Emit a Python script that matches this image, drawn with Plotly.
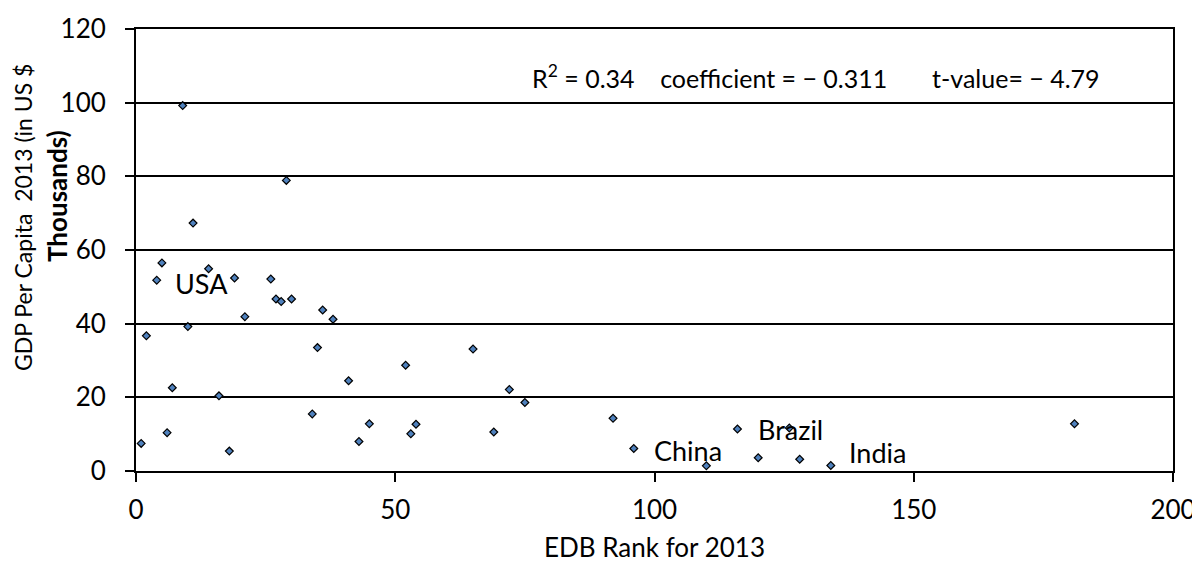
import plotly.graph_objects as go

# ---- data ----
edb_rank = [9, 29, 11, 5, 14, 4, 19, 26, 27, 28, 30, 21, 36, 38, 2, 10, 35, 52, 41, 7,
            16, 34, 45, 54, 6, 53, 1, 43, 18, 65, 72, 75, 69, 92, 96, 110, 116, 120,
            126, 128, 134, 181]
gdp_pc = [99.2, 78.9, 67.3, 56.5, 54.9, 51.8, 52.4, 52.1, 46.7, 46.0, 46.7, 41.9, 43.7,
          41.2, 36.7, 39.2, 33.5, 28.7, 24.5, 22.6, 20.4, 15.5, 12.8, 12.7, 10.4, 10.1,
          7.5, 8.0, 5.4, 33.1, 22.1, 18.6, 10.6, 14.3, 6.1, 1.4, 11.4, 3.6, 11.7, 3.2,
          1.5, 12.8]

country_labels = ["USA", "China", "Brazil", "India"]
label_x = [12.7, 106.5, 126.3, 143.1]
label_y = [51.0, 5.7, 11.4, 4.9]

x_ticks = [0, 50, 100, 150, 200]
y_ticks = [0, 20, 40, 60, 80, 100, 120]

NB = "\u00a0"
stats_text = ("R<sup>2</sup> = 0.34" + NB * 4 + "coefficient = \u2212 0.311"
              + NB * 7 + "t-value= \u2212 4.79")

FONT = "Lato"
OFF = 8                     # page body margin of the written html
PAGE_W, PAGE_H = 1200, 563
W, H = PAGE_W - OFF, PAGE_H - OFF
# plot area in page pixels: x 136..1173, y 29..471
PL, PR, PT, PB = 136, 1173, 29, 471
L, T = PL - OFF, PT - OFF
R, B = W - (PR - OFF), H - (PB - OFF)
PW, PH = PR - PL, PB - PT

def px_to_paper_x(px):
    return (px - PL) / PW

def px_to_paper_y(py):
    return (PB - py) / PH

fig = go.Figure()
fig.add_trace(go.Scatter(
    x=edb_rank, y=gdp_pc, mode="markers",
    marker=dict(symbol="diamond", size=6, color="#4F81BD",
                line=dict(color="black", width=1.2)),
    showlegend=False, hoverinfo="x+y",
))

for name, lx, ly in zip(country_labels, label_x, label_y):
    fig.add_annotation(x=lx, y=ly, xref="x", yref="y", text=name, showarrow=False,
                       font=dict(family=FONT, size=27, color="black"))

fig.add_annotation(x=76, y=107.2, xref="x", yref="y", text=stats_text, showarrow=False,
                   xanchor="left", yanchor="middle",
                   font=dict(family=FONT, size=25, color="black"))

# y-axis title (two lines, second bold)
fig.add_annotation(x=px_to_paper_x(23), y=px_to_paper_y(218), xref="paper", yref="paper",
                   text="GDP Per Capita" + NB * 2 + "2013 (in US $", textangle=-90,
                   showarrow=False, xanchor="center", yanchor="middle",
                   font=dict(family=FONT, size=23, color="black"))
fig.add_annotation(x=px_to_paper_x(57), y=px_to_paper_y(196), xref="paper", yref="paper",
                   text="<b>Thousands)</b>", textangle=-90, showarrow=False,
                   xanchor="center", yanchor="middle",
                   font=dict(family=FONT, size=26, color="black"))

# x-axis title
fig.add_annotation(x=0.5, y=px_to_paper_y(547), xref="paper", yref="paper",
                   text="EDB Rank for 2013", showarrow=False,
                   xanchor="center", yanchor="middle",
                   font=dict(family=FONT, size=26, color="black"))

fig.update_layout(
    width=W, height=H,
    margin=dict(l=L, r=R, t=T, b=B, pad=0, autoexpand=False),
    plot_bgcolor="white", paper_bgcolor="white",
    font=dict(family=FONT, size=26, color="black"),
    xaxis=dict(range=[0, 200], tickvals=x_ticks, ticks="outside", ticklen=9, tickwidth=2,
               tickcolor="black", showline=True, linecolor="black", linewidth=2,
               mirror=True, showgrid=False, zeroline=False, automargin=False,
               ticklabelstandoff=6,
               tickfont=dict(family=FONT, size=26)),
    yaxis=dict(range=[0, 120], tickvals=y_ticks, ticks="outside", ticklen=9, tickwidth=2,
               tickcolor="black", showline=True, linecolor="black", linewidth=2,
               mirror=True, showgrid=True, gridcolor="black", gridwidth=2, zeroline=False,
               automargin=False, ticklabelstandoff=14,
               tickfont=dict(family=FONT, size=26)),
)

fig.write_html("out.html")
